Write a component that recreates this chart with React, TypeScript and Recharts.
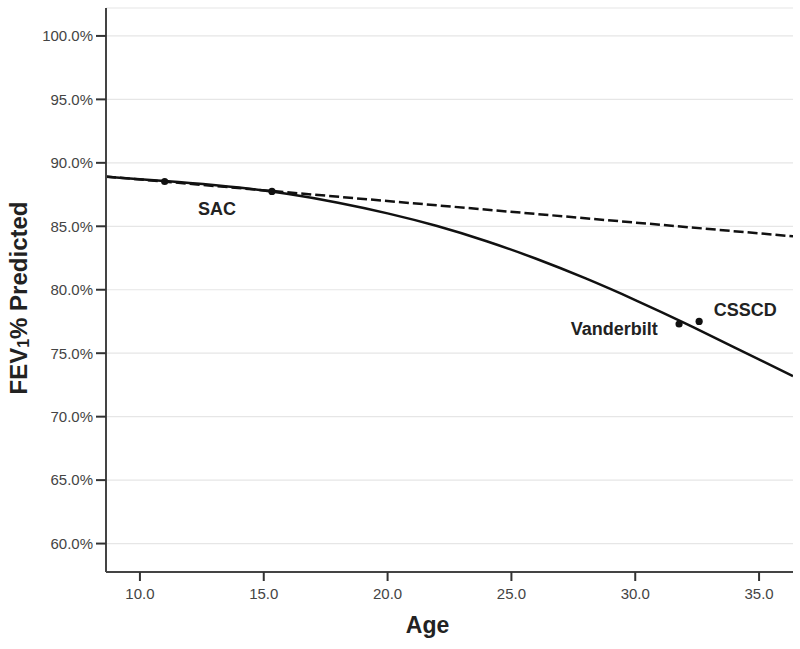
import React from 'react';
import {
  ComposedChart, Line, Scatter, XAxis, YAxis, CartesianGrid,
} from 'recharts';

const xTicks = [10, 15, 20, 25, 30, 35];
const yTicks = [60, 65, 70, 75, 80, 85, 90, 95, 100];
const xDomain = [8.63, 36.37];
const yDomain = [57.76, 102.2];

// quadratic-looking decline (solid curve)
const curveAges = [8.63, 10, 12, 14, 16, 18, 20, 22, 24, 26, 28, 30, 32, 34, 36.37];
const curveFev = [88.9, 88.7, 88.42, 88.06, 87.54, 86.86, 86.02, 85.02, 83.82, 82.44, 80.89, 79.19, 77.37, 75.45, 73.2];

// linear decline (dashed line)
const linearAges = [8.63, 36.37];
const linearFev = [88.92, 84.21];

// cohort points
const pointAges = [11.0, 15.33, 31.77, 32.58];
const pointFev = [88.53, 87.75, 77.3, 77.5];

// cohort labels
const labelNames = ['SAC', 'Vanderbilt', 'CSSCD'];
const labelAges = [13.11, 29.15, 34.44];
const labelFev = [86.33, 76.9, 78.4];

const curveData = curveAges.map((age, i) => ({ age, fev: curveFev[i] }));
const linearData = linearAges.map((age, i) => ({ age, fev: linearFev[i] }));
const pointData = pointAges.map((age, i) => ({ age, fev: pointFev[i] }));
const labelData = labelNames.map((name, i) => ({ name, age: labelAges[i], fev: labelFev[i] }));

const FONT = '"Liberation Sans", Arial, sans-serif';

const LabelShape = (props: any) => {
  const { cx, cy, payload } = props;
  return (
    <text x={cx} y={cy} textAnchor="middle" dominantBaseline="central"
      fontFamily={FONT} fontWeight="bold" fontSize={18} fill="#222">
      {payload.name}
    </text>
  );
};

const DotShape = (props: any) => {
  const { cx, cy } = props;
  return <circle cx={cx} cy={cy} r={3.6} fill="#111" />;
};

const YLabel = (props: any) => {
  const vb = props.viewBox || { x: 0, y: 8, width: 106, height: 564 };
  const x = vb.x + 18;
  const y = vb.y + vb.height / 2 + 8;
  return (
    <text x={x} y={y} transform={`rotate(-90, ${x}, ${y})`} textAnchor="middle"
      dominantBaseline="central" fontFamily={FONT} fontWeight="bold" fontSize={24} fill="#222">
      FEV<tspan fontSize={16} dy={5}>1</tspan><tspan dy={-5}>% Predicted</tspan>
    </text>
  );
};

export default function App() {
  return (
    <div style={{ position: 'absolute', left: 0, top: 0, background: '#fff' }}>
      <ComposedChart width={800} height={649} margin={{ top: 8, right: 7, left: 0, bottom: 0 }}>
        <CartesianGrid horizontal vertical={false} stroke="#e6e6e6" strokeWidth={1.2} />
        <XAxis
          xAxisId={0}
          dataKey="age"
          type="number"
          domain={xDomain}
          ticks={xTicks}
          allowDataOverflow
          height={77}
          tickFormatter={(v: number) => v.toFixed(1)}
          tick={{ fontFamily: FONT, fontSize: 15, fill: '#444' }}
          tickSize={9}
          tickMargin={7}
          tickLine={{ stroke: '#333', strokeWidth: 2 }}
          axisLine={{ stroke: '#444', strokeWidth: 2 }}
          label={{ value: 'Age', position: 'insideBottom', offset: 16, dx: -22, fontFamily: FONT, fontWeight: 'bold', fontSize: 23, fill: '#222' }}
        />
        <XAxis
          xAxisId="top"
          orientation="top"
          type="number"
          domain={xDomain}
          allowDataOverflow
          height={0}
          tick={false}
          tickLine={false}
          axisLine={{ stroke: '#8a8a8a', strokeWidth: 1.5 }}
        />
        <YAxis
          yAxisId={0}
          type="number"
          domain={yDomain}
          ticks={yTicks}
          allowDataOverflow
          width={106}
          tickFormatter={(v: number) => v.toFixed(1) + '%'}
          tick={{ fontFamily: FONT, fontSize: 15, fill: '#444' }}
          tickSize={10}
          tickMargin={3}
          tickLine={{ stroke: '#333', strokeWidth: 2 }}
          axisLine={{ stroke: '#444', strokeWidth: 2 }}
          label={<YLabel />}
        />
        <YAxis
          yAxisId="right"
          orientation="right"
          type="number"
          domain={yDomain}
          allowDataOverflow
          width={0}
          tick={false}
          tickLine={false}
          axisLine={{ stroke: '#8a8a8a', strokeWidth: 1.5 }}
        />
        <Line data={linearData} dataKey="fev" type="linear" stroke="#111" strokeWidth={2.5}
          strokeDasharray="10 4" dot={false} activeDot={false} isAnimationActive={false} />
        <Line data={curveData} dataKey="fev" type="natural" stroke="#111" strokeWidth={2.5}
          dot={false} activeDot={false} isAnimationActive={false} />
        <Scatter data={pointData} dataKey="fev" shape={<DotShape />} isAnimationActive={false} />
        <Scatter data={labelData} dataKey="fev" shape={<LabelShape />} isAnimationActive={false} />
      </ComposedChart>
    </div>
  );
}
